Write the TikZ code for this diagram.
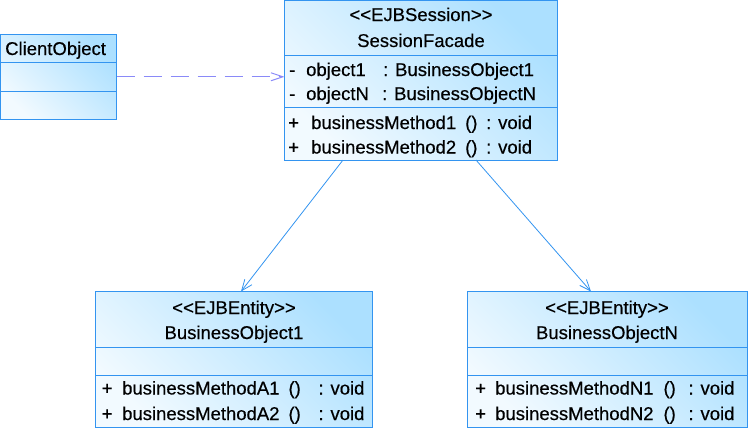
\documentclass[tikz,border=0pt]{standalone}
\usepackage{fontspec}
\setmainfont[FakeBold=0.4,AutoFakeBold=false]{Liberation Sans}
\usetikzlibrary{arrows.meta,calc}
\definecolor{bord}{HTML}{3394F0}
\definecolor{fillA}{HTML}{F2FAFF}
\definecolor{fillB}{HTML}{ACE0FF}
\definecolor{dep}{HTML}{8A8AF8}
\tikzset{
  classbox/.style={draw=bord, line width=1bp, inner sep=0pt, outer sep=0pt,
    left color=fillA, right color=fillB, shading angle=135},
  sep/.style={draw=bord, line width=1bp},
  txt/.style={anchor=base west, inner sep=0pt, font=\fontsize{18.5bp}{21bp}\selectfont},
  ctxt/.style={anchor=base, inner sep=0pt, font=\fontsize{18.5bp}{21bp}\selectfont},
  assoc/.style={draw=bord, line width=0.8bp, -{Straight Barb[length=11bp,width=9bp]}},
  depend/.style={draw=dep, line width=1bp, dash pattern=on 18bp off 9bp, -{Straight Barb[length=12bp,width=8bp]}}
}
\begin{document}
\begin{tikzpicture}[x=1bp,y=-1bp]
\useasboundingbox (0,0) rectangle (750,431);
% boxes
\node[classbox, minimum width=116bp, minimum height=84.5bp] (co) at (58.5,76.75) {};
\node[classbox, minimum width=272.5bp, minimum height=159.5bp] (sf) at (420.75,80.25) {};
\node[classbox, minimum width=277bp, minimum height=136bp] (bo1) at (234,359.5) {};
\node[classbox, minimum width=279.5bp, minimum height=136bp] (bon) at (607.25,359.5) {};
% compartments
\draw[sep] (co.west |- 0,62) -- (co.east |- 0,62);
\draw[sep] (co.west |- 0,91) -- (co.east |- 0,91);
\draw[sep] (sf.west |- 0,55) -- (sf.east |- 0,55);
\draw[sep] (sf.west |- 0,107) -- (sf.east |- 0,107);
\draw[sep] (bo1.west |- 0,347) -- (bo1.east |- 0,347);
\draw[sep] (bo1.west |- 0,375) -- (bo1.east |- 0,375);
\draw[sep] (bon.west |- 0,347) -- (bon.east |- 0,347);
\draw[sep] (bon.west |- 0,375) -- (bon.east |- 0,375);
% texts
\node[txt] (cot) at (5,55) {ClientObject};
\node[ctxt] (sfs) at (421,21) {<{}<EJBSession>{}>};
\node[ctxt] (sfn) at (421,47) {SessionFacade};
\node[txt] (sfa1) at (289,76) {\makebox[17bp][l]{-}\makebox[77bp][l]{object1}: BusinessObject1};
\node[txt] (sfa2) at (289,100) {\makebox[17bp][l]{-}\makebox[76bp][l]{objectN}: BusinessObjectN};
\node[txt] (sfm1) at (288,129) {\makebox[23bp][l]{+}businessMethod1\hspace{9bp}\makebox[21bp][l]{()}: void};
\node[txt] (sfm2) at (288,153.5) {\makebox[23bp][l]{+}businessMethod2\hspace{9bp}\makebox[21bp][l]{()}: void};
\node[ctxt] (bo1s) at (234,314) {<{}<EJBEntity>{}>};
\node[ctxt] (bo1n) at (234,339) {BusinessObject1};
\node[txt] (bo1m1) at (101.5,394.5) {\makebox[20.5bp][l]{+}businessMethodA1\hspace{9bp}\makebox[30bp][l]{()}: void};
\node[txt] (bo1m2) at (101.5,420) {\makebox[20.5bp][l]{+}businessMethodA2\hspace{9bp}\makebox[30bp][l]{()}: void};
\node[ctxt] (bons) at (607,314) {<{}<EJBEntity>{}>};
\node[ctxt] (bonn) at (607,339) {BusinessObjectN};
\node[txt] (bonm1) at (475,394.5) {\makebox[20bp][l]{+}businessMethodN1\hspace{10bp}\makebox[25bp][l]{()}: void};
\node[txt] (bonm2) at (475,420) {\makebox[20bp][l]{+}businessMethodN2\hspace{10bp}\makebox[25bp][l]{()}: void};
% connectors
\draw[depend] (co.east) -- (sf.west |- co.east);
\draw[assoc] ($(sf.south west)+(58.5,0)$) -- ($(bo1.north west)+(145.5,0)$);
\draw[assoc] ($(sf.south west)+(191.5,0)$) -- ($(bon.north west)+(123.5,0)$);
\end{tikzpicture}
\end{document}
